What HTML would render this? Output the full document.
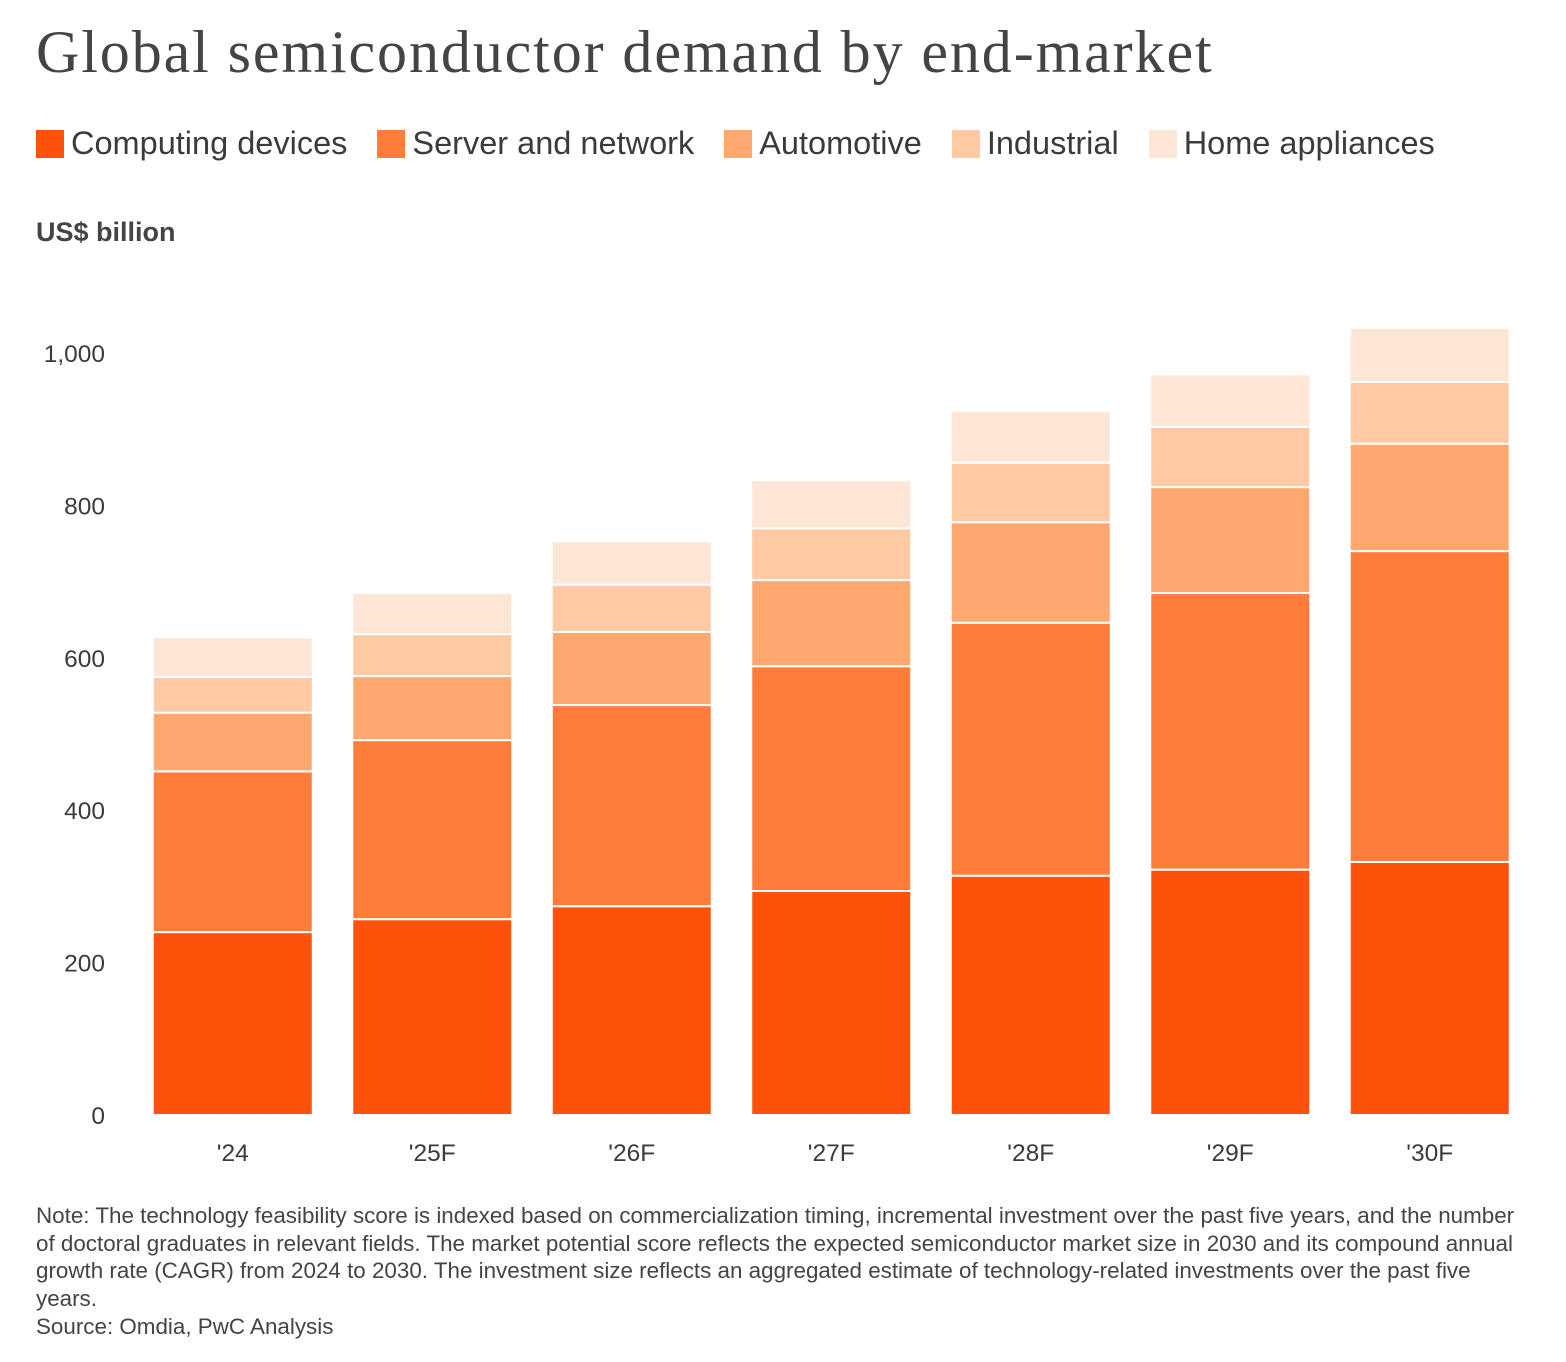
<!DOCTYPE html>
<html><head><meta charset="utf-8"><style>
body{margin:0;background:#fff;width:1566px;height:1362px;overflow:hidden;font-family:"Liberation Sans",sans-serif;color:#3b3b3b}
#title{position:absolute;left:36px;top:18px;font-family:"Liberation Serif",serif;font-size:60px;letter-spacing:1.9px;color:#444;margin:0;font-weight:normal;white-space:nowrap}
#legend{position:absolute;left:36px;top:125px;display:flex;font-size:32.5px;color:#3b3b3b;white-space:nowrap}
.le{display:flex;align-items:center;margin-right:30px}
.sw{width:28px;height:28px;margin-right:7px}
#unit{position:absolute;left:36px;top:217px;font-size:27px;font-weight:bold;color:#444}
#note{position:absolute;left:36px;top:1202px;width:1496px;font-size:22.4px;line-height:27.7px;color:#444}
svg{position:absolute;left:0;top:0}
</style></head><body>
<h1 id="title">Global semiconductor demand by end-market</h1>
<div id="legend">
<div class="le"><div class="sw" style="background:#fe520b"></div>Computing devices</div>
<div class="le"><div class="sw" style="background:#fe7d3b"></div>Server and network</div>
<div class="le"><div class="sw" style="background:#fea870"></div>Automotive</div>
<div class="le"><div class="sw" style="background:#fec9a3"></div>Industrial</div>
<div class="le"><div class="sw" style="background:#fee6d6"></div>Home appliances</div>
</div>
<div id="unit">US$ billion</div>
<svg id="chart" width="1566" height="1362"></svg>
<div id="note">Note: The technology feasibility score is indexed based on commercialization timing, incremental investment over the past five years, and the number of doctoral graduates in relevant fields. The market potential score reflects the expected semiconductor market size in 2030 and its compound annual growth rate (CAGR) from 2024 to 2030. The investment size reflects an aggregated estimate of technology-related investments over the past five years.<br>Source: Omdia, PwC Analysis</div>
<script>
const categories=["'24","'25F","'26F","'27F","'28F","'29F","'30F"];
const computing=[240,257,274,294,314,322,332];
const server=[211,235,264,295,332,363,408];
const automotive=[77,84,96,113,132,139,141];
const industrial=[47,55,62,68,78,79,81];
const home=[52,54,57,63,68,69,71];
const yTicks=[0,200,400,600,800,1000];
const yTickLabels=["0","200","400","600","800","1,000"];
const series=[computing,server,automotive,industrial,home];
const colors=["#fe520b","#fe7d3b","#fea870","#fec9a3","#fee6d6"];
const names=["computing","server","automotive","industrial","home"];
const NS="http://www.w3.org/2000/svg";
const svg=document.getElementById('chart');
const y0=1115,pxPer=0.762;
function y(v){return y0-v*pxPer;}
const x0=133,step=199.5,bw=160;
function x(i){return x0+i*step+(step-bw)/2;}
yTicks.forEach((t,i)=>{
 const tx=document.createElementNS(NS,'text');
 tx.setAttribute('x',105);tx.setAttribute('y',y(t)+9);
 tx.setAttribute('text-anchor','end');tx.setAttribute('font-size','24.5');tx.setAttribute('fill','#3b3b3b');
 tx.setAttribute('font-family','Liberation Sans, sans-serif');
 tx.textContent=yTickLabels[i];
 
 
 svg.appendChild(tx);
});
categories.forEach((c,i)=>{
 let cum=0;
 series.forEach((s,k)=>{
  const v=s[i];
  const r=document.createElementNS(NS,'rect');
  r.setAttribute('x',x(i));r.setAttribute('width',bw);
  r.setAttribute('y',y(cum+v));r.setAttribute('height',v*pxPer);
  r.setAttribute('fill',colors[k]);r.setAttribute('stroke','#fff');r.setAttribute('stroke-width','2');
  
  
  svg.appendChild(r);
  cum+=v;
 });
 const tx=document.createElementNS(NS,'text');
 tx.setAttribute('x',x(i)+bw/2);tx.setAttribute('y',1161);
 tx.setAttribute('text-anchor','middle');tx.setAttribute('font-size','24.5');tx.setAttribute('fill','#3b3b3b');
 tx.setAttribute('font-family','Liberation Sans, sans-serif');
 tx.textContent=c;
 
 
 svg.appendChild(tx);
});
</script>
</body></html>
